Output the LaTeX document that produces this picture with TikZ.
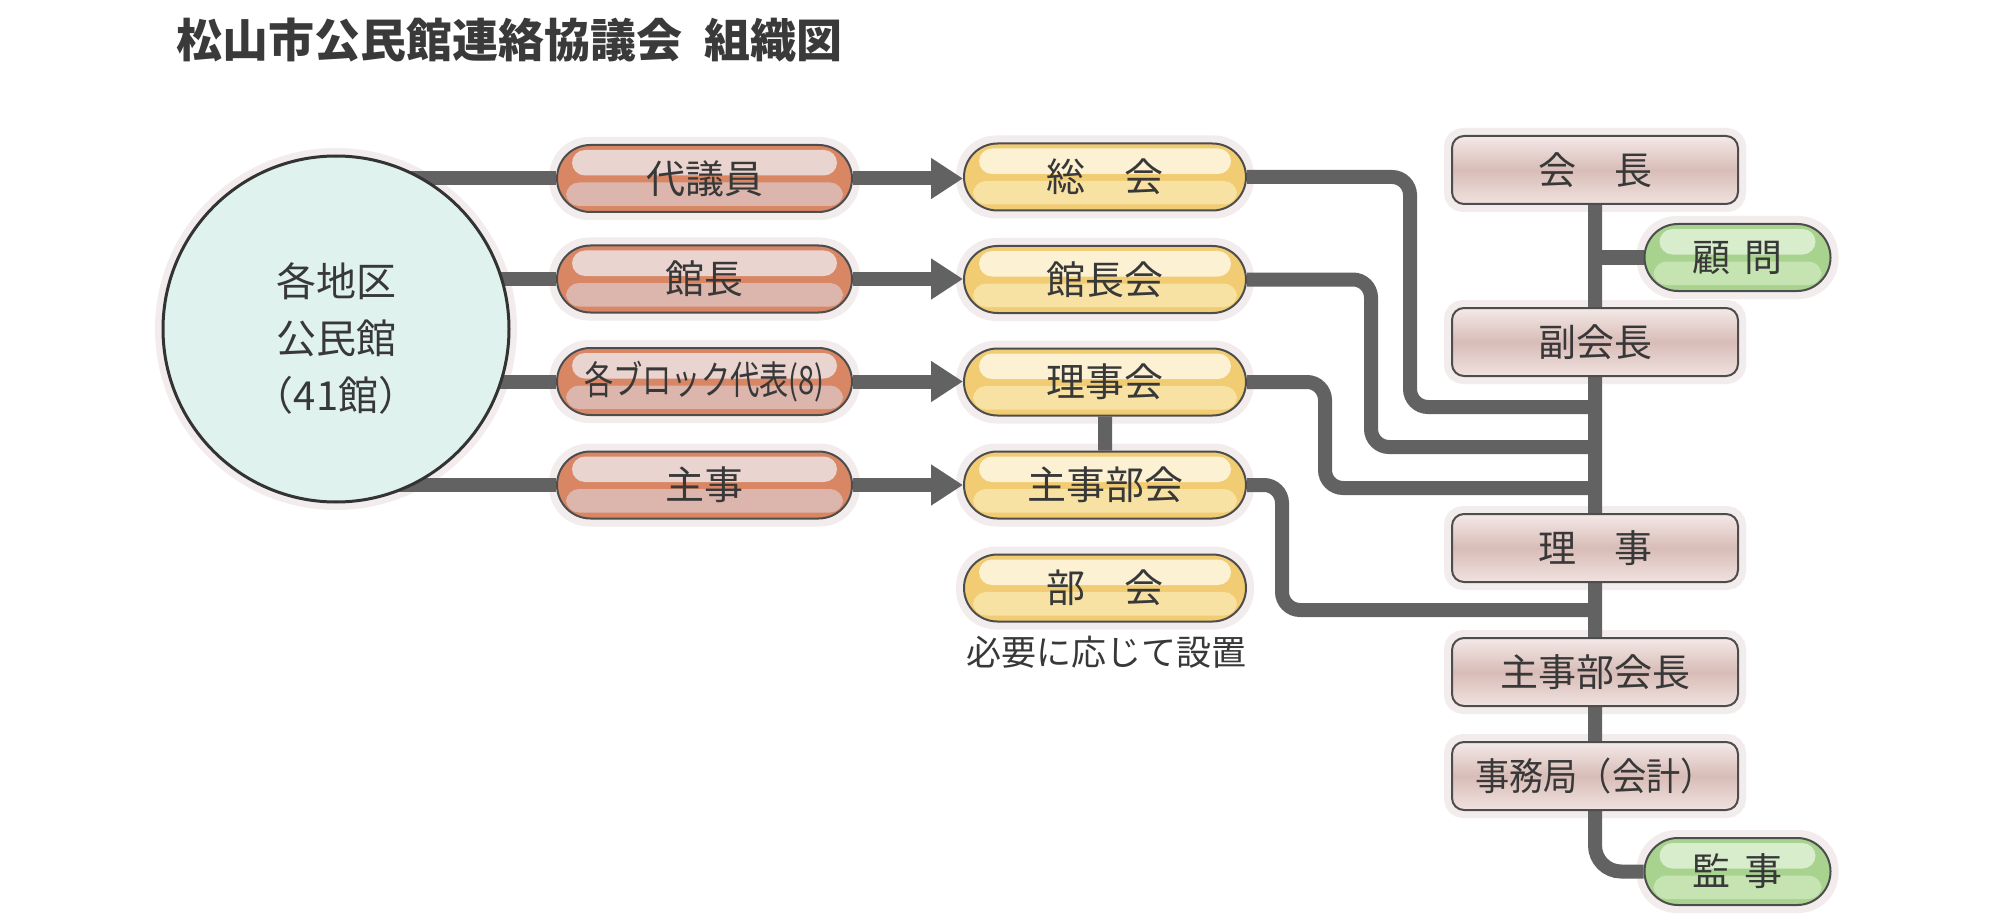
\documentclass[tikz,border=0pt]{standalone}
\usepackage{fontspec}
\usepackage{graphicx}
\setmainfont{Noto Sans CJK JP}
\usetikzlibrary{shapes.misc,arrows.meta,calc}
\definecolor{orng}{HTML}{D98664}
\definecolor{lhi}{HTML}{EAD4D0}
\definecolor{llo}{HTML}{DCB6AC}
\definecolor{ybase}{HTML}{F1CC72}
\definecolor{yhi}{HTML}{FCF1D2}
\definecolor{ylo}{HTML}{F7E1A3}
\definecolor{gbase}{HTML}{A8D38F}
\definecolor{ghi}{HTML}{D7EDCC}
\definecolor{glo}{HTML}{C6E3B2}
\definecolor{pkTop}{HTML}{F4E9E7}
\definecolor{pkMid}{HTML}{D8BCB7}
\definecolor{pkBot}{HTML}{F0E2DF}
\definecolor{circFill}{HTML}{E0F2EE}
\definecolor{circEdge}{HTML}{333333}
\definecolor{lineG}{HTML}{626262}
\definecolor{edge}{HTML}{4D4D4D}
\definecolor{haloC}{HTML}{F3ECEC}
\definecolor{txt}{HTML}{383838}
\definecolor{titleC}{HTML}{3A3A3A}
\pgfdeclarelayer{bg}
\pgfdeclarelayer{halo}
\pgfdeclarelayer{lines}
\pgfsetlayers{bg,halo,lines,main}
\newcommand{\greenfont}{\fontsize{38}{38}\selectfont\spaceskip=15pt\relax}
\newcommand{\titlefont}{\fontsize{46}{46}\selectfont\bfseries\spaceskip=22pt\relax}
\tikzset{
  pill/.style n args={4}{rounded rectangle, minimum width=#1, minimum height=67pt,
    inner sep=0pt, draw=edge, line width=2pt, fill=#2, text=txt,
    font=\fontsize{39}{39}\selectfont,
    path picture={
      \fill[#3, rounded corners=13pt] ([shift={(15pt,-5pt)}]path picture bounding box.north west)
        rectangle ([shift={(-15pt,3pt)}]path picture bounding box.east);
      \fill[#4, rounded corners=13pt] ([shift={(9pt,-4pt)}]path picture bounding box.west)
        rectangle ([shift={(-9pt,6pt)}]path picture bounding box.south east);
    }},
  leftpill/.style={pill={295pt}{orng}{lhi}{llo}},
  midpill/.style={pill={282pt}{ybase}{yhi}{ylo}},
  greenpill/.style={pill={186pt}{gbase}{ghi}{glo}, font=\greenfont},
  rbox/.style={rectangle, rounded corners=12pt, minimum width=286pt, minimum height=68pt,
    inner sep=0pt, draw=edge, line width=2pt, top color=pkTop, bottom color=pkBot,
    middle color=pkMid, text=txt, font=\fontsize{38}{38}\selectfont},
  conn/.style={draw=lineG, line width=14pt},
  haloline/.style={draw=haloC, line width=14pt},
}
\begin{document}
\begin{tikzpicture}[x=1pt,y=-1pt]
\useasboundingbox (0,0) rectangle (2000,920);
\begin{pgfonlayer}{bg}
  \fill[white] (0,0) rectangle (2000,920);
\end{pgfonlayer}

% title
\node[anchor=west, inner sep=0pt, text=titleC, font=\titlefont] (title) at (176,40)
  {松山市公民館連絡協議会 組織図};

% circle
\node[circle, minimum size=346pt, inner sep=0pt, draw=circEdge, line width=3pt, fill=circFill] (circ) at (336,329) {};
\node[align=center, text=txt, font=\fontsize{40}{57}\selectfont] (circtext) at (336,338)
  {各地区\\公民館\\（41館）};

% left pills
\node[leftpill] (l1) at (704.5,178.5) {代議員};
\node[leftpill] (l2) at (704.5,279) {館長};
\node[leftpill] (l3) at (704.5,381.5) {\scalebox{0.75}[1]{各ブロック代表(8)}};
\node[leftpill] (l4) at (704.5,485) {主事};

% middle pills
\node[midpill] (m1) at (1105,177) {総　会};
\node[midpill] (m2) at (1105,279.5) {館長会};
\node[midpill] (m3) at (1105,382) {理事会};
\node[midpill] (m4) at (1105,485) {主事部会};
\node[midpill] (m5) at (1105,588) {部　会};
\node[text=txt, font=\fontsize{35}{35}\selectfont, inner sep=0pt] (note) at (1106,652) {必要に応じて設置};

% right boxes
\node[rbox] (r1) at (1595,170) {会　長};
\node[rbox] (r2) at (1595,342) {副会長};
\node[rbox] (r3) at (1595,548) {理　事};
\node[rbox] (r4) at (1595,672) {主事部会長};
\node[rbox] (r5) at (1595,776) {\scalebox{0.9}[1]{事務局（会計）}};

% green pills
\node[greenpill] (g1) at (1737.5,257.5) {顧 問};
\node[greenpill] (g2) at (1737.5,871.5) {監 事};

% bend points
\coordinate (tr) at (1595,0);
\coordinate (b1) at (1410,407);
\coordinate (b2) at (1371,447);
\coordinate (b3) at (1325,488);
\coordinate (b4) at (1282,610);

\begin{pgfonlayer}{lines}
  \foreach \i in {1,...,4}
    \draw[conn] (circ.center |- l\i.west) -- (l\i.west);
  \foreach \i in {1,...,4}
    \draw[conn, -{Triangle[length=32pt,width=39pt]}] (l\i.east) -- (l\i.east -| m\i.west);
  \draw[conn] (m3) -- (m4);
  \draw[conn, rounded corners=18pt] (m1.east) -| (b1) -- (b1 -| tr);
  \draw[conn, rounded corners=18pt] (m2.east) -| (b2) -- (b2 -| tr);
  \draw[conn, rounded corners=18pt] (m3.east) -| (b3) -- (b3 -| tr);
  \draw[conn, rounded corners=18pt] (m4.east) -| (b4) -- (b4 -| tr);
  \draw[conn, rounded corners=26pt] (r1.center) -- (tr |- g2.west) -- (g2.west);
  \draw[conn] (tr |- g1.west) -- (g1.west);
\end{pgfonlayer}

\begin{pgfonlayer}{halo}
  \draw[haloline] (circ.center) circle (174pt);
  \foreach \n in {l1,l2,l3,l4,m1,m2,m3,m4,m5,g1,g2}
    \draw[haloline, rounded corners=33pt] (\n.west |- \n.north) rectangle (\n.east |- \n.south);
  \foreach \n in {r1,r2,r3,r4,r5}
    \draw[haloline, rounded corners=12pt] (\n.west |- \n.north) rectangle (\n.east |- \n.south);
\end{pgfonlayer}
\end{tikzpicture}
\end{document}
